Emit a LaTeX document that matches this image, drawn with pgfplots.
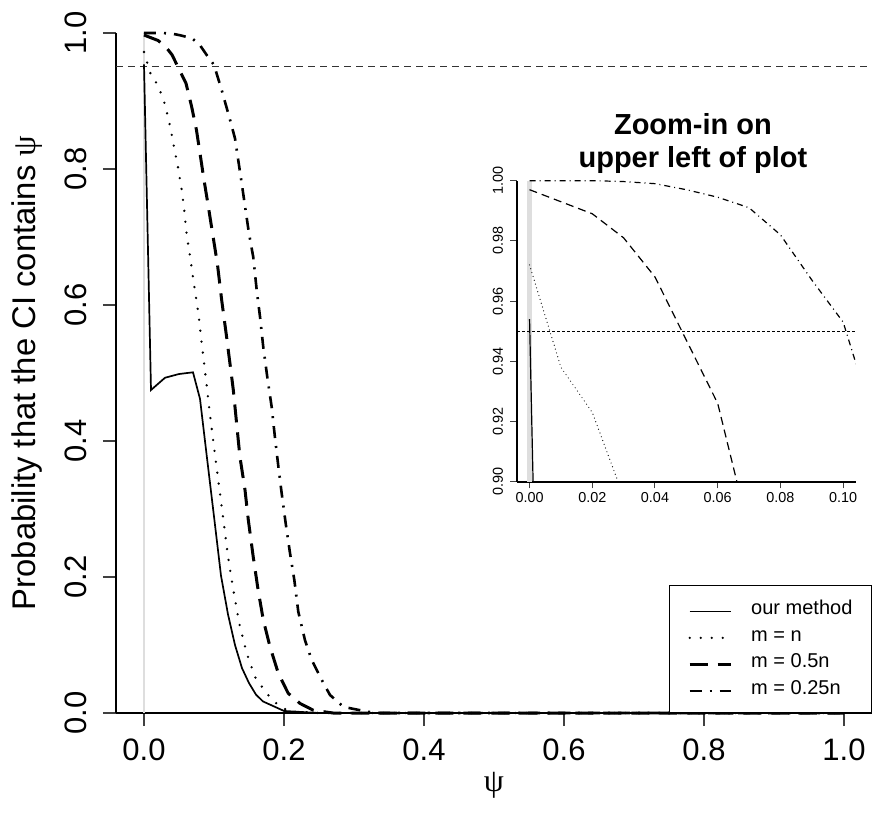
\documentclass[border=0pt]{standalone}
\usepackage{pgfplots}
\pgfplotsset{compat=1.18}
\usepackage{pgfplotstable}
\usepackage{fontspec}
\setmainfont{Liberation Sans}
\newfontfamily\grk{Liberation Serif}

\pgfplotstableread{
psi p
0 0.954
0.01 0.475
0.03 0.493
0.05 0.4985
0.07 0.501
0.08 0.462
0.09 0.375
0.10 0.289
0.11 0.202
0.12 0.145
0.13 0.100
0.14 0.066
0.15 0.044
0.16 0.027
0.17 0.017
0.20 0.003
0.25 0.000
1.00 0.000
}\ours

\pgfplotstableread{
psi p
0 0.972
0.01 0.938
0.02 0.923
0.03 0.895
0.037 0.864
0.043 0.832
0.049 0.800
0.054 0.768
0.058 0.735
0.061 0.703
0.066 0.670
0.0705 0.637
0.0776 0.588
0.083 0.539
0.0886 0.490
0.094 0.441
0.100 0.391
0.106 0.343
0.114 0.279
0.120 0.230
0.1276 0.181
0.136 0.132
0.1467 0.088
0.1586 0.053
0.175 0.029
0.194 0.009
0.21 0.002
0.25 0.000
1.00 0.000
}\mn

\pgfplotstableread{
psi p
0 0.997
0.01 0.993
0.02 0.989
0.03 0.981
0.04 0.968
0.05 0.947
0.06 0.926
0.068 0.892
0.075 0.857
0.08 0.823
0.0857 0.784
0.0919 0.745
0.098 0.705
0.1048 0.661
0.111 0.607
0.118 0.553
0.1276 0.475
0.137 0.377
0.1443 0.328
0.149 0.284
0.156 0.230
0.163 0.181
0.1704 0.137
0.18 0.0975
0.192 0.058
0.206 0.029
0.223 0.014
0.242 0.004
0.27 0.000
1.00 0.000
}\mhalf

\pgfplotstableread{
psi p
0 1.000
0.02 1.000
0.03 0.9997
0.04 0.999
0.05 0.997
0.06 0.9945
0.07 0.991
0.08 0.982
0.09 0.967
0.10 0.953
0.111 0.916
0.123 0.872
0.13 0.845
0.14 0.776
0.15 0.705
0.156 0.671
0.161 0.622
0.1657 0.583
0.1704 0.538
0.176 0.495
0.1824 0.450
0.187 0.406
0.192 0.362
0.1967 0.323
0.2024 0.279
0.2086 0.235
0.2147 0.196
0.2204 0.149
0.23 0.107
0.2396 0.078
0.254 0.0485
0.2657 0.0265
0.285 0.009
0.309 0.004
0.33 0.000
1.00 0.000
}\mquarter

\begin{document}
\begin{tikzpicture}
\useasboundingbox (-58pt,-50pt) rectangle (378pt,356.5pt);
\begin{axis}[
  at={(0pt,0pt)}, anchor=south west,
  scale only axis, width=378pt, height=340pt,
  xmin=-0.04, xmax=1.04, ymin=0, ymax=1,
  clip=false,
  axis x line*=bottom, axis y line*=left,
  axis line style={-, line width=1.1pt, black},
  xtick={0,0.2,0.4,0.6,0.8,1.0}, xticklabels={0.0,0.2,0.4,0.6,0.8,1.0},
  ytick={0,0.2,0.4,0.6,0.8,1.0}, yticklabels={0.0,0.2,0.4,0.6,0.8,1.0},
  tick align=outside, major tick length=6.5pt,
  every tick/.style={black!75, line width=0.6pt},
  tick label style={font=\fontsize{15.5}{18}\selectfont},
  yticklabel shift=8pt,
  yticklabel style={rotate=90, anchor=south, inner sep=0pt},
  xticklabel style={anchor=north, inner sep=0pt, yshift=-6pt},
  xlabel={\grk ψ},
  ylabel={Probability that the CI contains {\grk ψ}},
  xlabel style={font=\fontsize{16}{18}\selectfont, at={(axis description cs:0.5,0)}, anchor=center, yshift=-36pt},
  ylabel style={font=\fontsize{16.4}{18}\selectfont, at={(axis description cs:0,0.5)}, anchor=center, yshift=44.5pt},
  legend style={at={(rel axis cs:1,0)}, anchor=south east, draw=black, line width=0.6pt,
    inner xsep=9.5pt, inner ysep=7pt, row sep=3.75pt,
    font=\fontsize{10}{12}\selectfont,
    nodes={inner sep=0pt, text height=7.5pt, text depth=2pt},
    /tikz/every odd column/.append style={column sep=9.5pt}},
  legend cell align=left,
  legend image code/.code={\draw[#1] (0pt,-1pt) -- (20.5pt,-1pt);},
]
\addplot[forget plot, black!13, line width=1.4pt] coordinates {(0,0) (0,1)};
\addplot[forget plot, black!80, line width=0.5pt, dash pattern=on 3.5pt off 2.5pt] coordinates {(-0.04,0.95) (1.04,0.95)};
\addplot[black, line width=0.85pt] table[x=psi,y=p] {\ours};
\addlegendentry{our method}
\addplot[black, line width=1.3pt, line cap=round, dash pattern=on 0pt off 5.5pt] table[x=psi,y=p] {\mn};
\addlegendentry{m = n}
\addplot[black, line width=1.5pt, dash pattern=on 9pt off 5pt] table[x=psi,y=p] {\mhalf};
\addlegendentry{m = 0.5n}
\addplot[black, line width=1.3pt, dash pattern=on 6pt off 4pt on 1pt off 4pt] table[x=psi,y=p] {\mquarter};
\addlegendentry{m = 0.25n}
\end{axis}

\begin{axis}[
  at={(200.5pt,115.65pt)}, anchor=south west,
  scale only axis, width=169.35pt, height=150.5pt,
  xmin=-0.004, xmax=0.104, ymin=0.9, ymax=1.0,
  axis x line*=bottom, axis y line*=left,
  axis line style={-, line width=1pt, black},
  xtick={0,0.02,0.04,0.06,0.08,0.10}, xticklabels={0.00,0.02,0.04,0.06,0.08,0.10},
  ytick={0.90,0.92,0.94,0.96,0.98,1.00}, yticklabels={0.90,0.92,0.94,0.96,0.98,1.00},
  tick align=outside, major tick length=3.3pt,
  every tick/.style={black!75, line width=0.5pt},
  tick label style={font=\fontsize{7.2}{8.5}\selectfont},
  yticklabel shift=3.5pt,
  yticklabel style={rotate=90, anchor=south, inner sep=0pt},
  xticklabel style={anchor=north, inner sep=0pt, yshift=-2pt},
  title={Zoom-in on\\upper left of plot},
  title style={font=\bfseries\fontsize{14.5}{16.6}\selectfont, align=center, anchor=south, inner sep=0pt, yshift=-2.5pt, xshift=3.3pt},
]
\addplot[black!13, line width=2.3pt] coordinates {(0,0.9) (0,1)};
\addplot[black, line width=0.5pt, dash pattern=on 1.5pt off 1pt] coordinates {(-0.004,0.95) (0.104,0.95)};
\addplot[black, line width=0.6pt] table[x=psi,y=p] {\ours};
\addplot[black, line width=0.6pt, line cap=round, dash pattern=on 0pt off 2pt] table[x=psi,y=p] {\mn};
\addplot[black, line width=0.6pt, dash pattern=on 4pt off 2.5pt] table[x=psi,y=p] {\mhalf};
\addplot[black, line width=0.6pt, dash pattern=on 3pt off 2pt on 0.5pt off 2pt] table[x=psi,y=p] {\mquarter};
\end{axis}
\end{tikzpicture}
\end{document}
